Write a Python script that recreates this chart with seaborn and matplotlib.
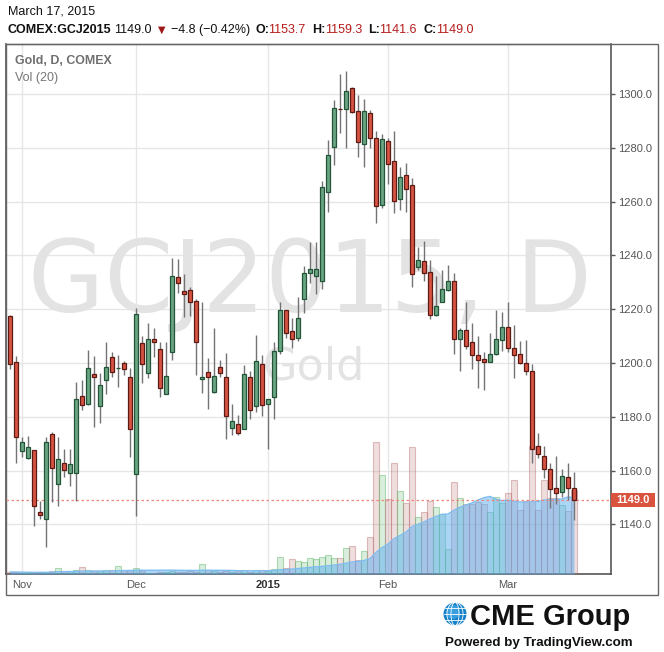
import numpy as np
import pandas as pd
import matplotlib
matplotlib.use("Agg")
import matplotlib.pyplot as plt
import matplotlib.transforms as mtransforms
from matplotlib.patches import Rectangle, Ellipse
from matplotlib.lines import Line2D
from matplotlib.ticker import FormatStrFormatter
import seaborn as sns

# ---------------- data ----------------
open_ = [1217.3, 1200.3, 1167.4, 1164.6, 1167.5, 1144.5, 1142.1, 1173.5, 1154.9, 1162.7,
         1159.0, 1159.0, 1187.6, 1184.6, 1195.8, 1183.9, 1193.6, 1202.1, 1198.0, 1199.9,
         1194.7, 1158.6, 1207.3, 1196.2, 1208.8, 1205.1, 1188.4, 1204.0, 1231.9, 1226.7,
         1227.0, 1222.9, 1193.9, 1196.5, 1189.1, 1198.4, 1194.7, 1175.7, 1177.2, 1175.4,
         1194.7, 1183.9, 1199.5, 1184.6, 1187.2, 1204.3, 1219.6, 1211.8, 1209.2, 1223.7,
         1233.3, 1232.2, 1230.4, 1263.5, 1280.2, 1294.5, 1294.3, 1302.1, 1293.6, 1281.3,
         1292.8, 1283.5, 1258.6, 1282.4, 1275.0, 1260.9, 1269.8, 1266.1, 1235.6, 1237.8,
         1233.7, 1217.7, 1222.6, 1227.0, 1230.4, 1208.8, 1212.2, 1207.7, 1202.9, 1201.4,
         1200.3, 1203.2, 1208.4, 1213.3, 1205.5, 1203.2, 1199.9, 1196.9, 1169.0, 1165.3,
         1160.5, 1153.4, 1151.9, 1157.5, 1153.7]
high = [1218.0, 1202.6, 1172.4, 1172.9, 1167.6, 1148.8, 1172.4, 1174.3, 1172.4, 1168.0,
        1168.0, 1192.9, 1193.7, 1204.8, 1202.6, 1196.2, 1207.8, 1204.1, 1203.0, 1200.6,
        1198.0, 1220.3, 1210.0, 1215.0, 1213.0, 1207.8, 1207.8, 1239.0, 1238.7, 1233.1,
        1228.1, 1223.9, 1222.6, 1201.7, 1212.9, 1201.1, 1203.6, 1184.8, 1180.6, 1199.3,
        1197.0, 1210.3, 1202.9, 1186.6, 1207.7, 1222.6, 1219.7, 1216.6, 1224.4, 1235.9,
        1244.9, 1244.9, 1267.5, 1282.8, 1297.7, 1307.4, 1308.6, 1302.5, 1299.7, 1298.0,
        1293.9, 1286.1, 1285.0, 1283.5, 1286.2, 1272.8, 1274.2, 1268.7, 1243.0, 1245.2,
        1238.2, 1232.2, 1234.5, 1236.3, 1233.3, 1213.0, 1222.6, 1214.8, 1210.0, 1204.0,
        1211.0, 1219.6, 1218.8, 1222.6, 1214.0, 1208.1, 1208.4, 1199.5, 1173.9, 1169.0,
        1162.7, 1165.4, 1160.5, 1162.7, 1159.3]
low = [1197.6, 1163.0, 1165.2, 1164.4, 1139.5, 1142.1, 1131.7, 1148.4, 1147.0, 1157.7,
       1154.4, 1148.8, 1182.6, 1184.5, 1176.1, 1177.6, 1188.4, 1194.7, 1191.2, 1195.4,
       1165.2, 1143.2, 1192.7, 1194.3, 1202.1, 1187.5, 1188.3, 1201.0, 1226.0, 1217.2,
       1217.6, 1195.5, 1188.7, 1182.8, 1189.0, 1194.7, 1171.9, 1173.1, 1173.4, 1175.3,
       1179.3, 1181.9, 1180.4, 1168.1, 1179.0, 1203.2, 1209.3, 1205.5, 1208.1, 1218.5,
       1229.6, 1225.5, 1227.4, 1256.0, 1273.5, 1285.4, 1279.8, 1293.0, 1276.5, 1272.8,
       1279.8, 1251.9, 1257.5, 1266.4, 1255.7, 1256.8, 1256.0, 1228.1, 1234.5, 1230.4,
       1216.2, 1217.6, 1222.5, 1226.9, 1203.2, 1196.9, 1205.1, 1197.7, 1190.6, 1189.9,
       1200.2, 1203.1, 1204.3, 1204.0, 1194.3, 1199.8, 1195.4, 1162.7, 1164.6, 1157.1,
       1146.2, 1147.5, 1150.3, 1149.1, 1141.6]
close = [1199.5, 1172.4, 1170.5, 1168.7, 1146.7, 1143.4, 1170.5, 1160.8, 1164.2, 1160.1,
         1162.3, 1186.5, 1184.3, 1198.0, 1194.7, 1191.7, 1198.4, 1196.5, 1198.0, 1197.6,
         1175.3, 1218.1, 1199.5, 1208.8, 1207.7, 1190.6, 1195.1, 1232.2, 1229.6, 1225.5,
         1222.6, 1207.7, 1194.8, 1194.7, 1195.1, 1196.2, 1180.2, 1178.3, 1173.9, 1195.8,
         1182.4, 1200.6, 1184.3, 1186.5, 1204.3, 1219.6, 1211.0, 1208.8, 1216.6, 1233.3,
         1234.8, 1234.8, 1265.3, 1277.2, 1294.7, 1294.3, 1301.0, 1293.2, 1282.0, 1293.6,
         1283.5, 1258.3, 1283.2, 1273.9, 1260.1, 1269.0, 1264.6, 1233.0, 1238.2, 1233.4,
         1217.7, 1221.1, 1227.4, 1230.4, 1208.8, 1212.2, 1206.2, 1202.9, 1201.0, 1200.3,
         1203.2, 1208.8, 1213.3, 1205.5, 1202.9, 1199.9, 1196.9, 1167.9, 1166.1, 1160.5,
         1153.0, 1151.6, 1157.9, 1153.4, 1149.0]
volume = [2, 2, 1.5, 1.5, 1, 2, 1.5, 3, 5.7, 3.5,
          3, 4, 6.7, 4, 3, 3, 4, 4.5, 7.7, 4.5,
          4, 5.7, 3, 1.5, 1, 2, 2.5, 3.5, 2.5, 2,
          3, 2.5, 9.7, 4.5, 3.5, 2, 3, 2, 3, 4.5,
          2.5, 4.5, 4, 3.5, 5, 16.7, 6, 14.7, 12.7, 12.3,
          15.7, 14.7, 17, 18.7, 16, 16, 26, 27.7, 14, 23,
          36.7, 131.7, 99, 75, 110.7, 83, 71, 126.7, 56.7, 62,
          73, 66.7, 60, 25, 91.7, 75.7, 70, 70, 71.7, 70,
          61.7, 76.7, 70.7, 81, 93.7, 64, 73.3, 128.3, 64, 93.7,
          75.7, 75.7, 68.7, 63, 84]
month_labels = ["Nov", "Dec", "2015", "Feb", "Mar"]
month_start = [2, 21, 43, 63, 83]
price_ticks = [1140, 1160, 1180, 1200, 1220, 1240, 1260, 1280, 1300]

# ---------------- styling ----------------
sns.set_theme(style="white")
plt.rcParams["font.family"] = ["Liberation Sans", "DejaVu Sans"]

W, H = 664, 652
fig = plt.figure(figsize=(W / 100, H / 100), dpi=100)
fig.patch.set_facecolor("white")


def fx(x):
    return x / W


def fy(y):
    return 1 - y / H


pos = [fx(6), fy(574), fx(611) - fx(6), fy(44) - fy(574)]
ax = fig.add_axes(pos)
ax_vol = fig.add_axes(pos, sharex=ax)
ax_c = fig.add_axes(pos, sharex=ax, sharey=ax)
ax.set_zorder(0)
ax_vol.set_zorder(1)
ax_c.set_zorder(2)
ax_vol.set_axis_off()
ax_c.set_axis_off()

idx = np.arange(len(close))
o = np.array(open_)
h = np.array(high)
l = np.array(low)
c = np.array(close)
v = np.array(volume, dtype=float)
up = c >= o

# ---------------- base axes: grid, ticks, watermark ----------------
ax.set_facecolor("white")
ax.set_yticks(price_ticks)
ax.set_xticks(month_start, month_labels)
ax.grid(True, color="#e6e6e6", lw=1)
ax.set_axisbelow(True)
ax.yaxis.tick_right()
ax.yaxis.set_major_formatter(FormatStrFormatter("%.1f"))
ax.tick_params(axis="y", colors="#555555", length=3, width=1, pad=2, labelsize=8)
ax.tick_params(axis="x", colors="#555555", length=3, width=1, pad=1.5, labelsize=8)
for lbl in ax.get_xticklabels():
    if lbl.get_text() == "2015":
        lbl.set_fontweight("bold")
        lbl.set_color("#333333")
for s in ["left", "bottom", "right"]:
    ax.spines[s].set_color("#555555")
    ax.spines[s].set_linewidth(1.2)
ax.spines["top"].set_color("#888888")
ax.spines["top"].set_linewidth(1)

ax.text(fx(309.5), fy(312), "GCJ2015, D", transform=fig.transFigure,
        ha="center", va="baseline", fontsize=71, color="#e3e3e3",
        family="DejaVu Sans", zorder=0.6)
ax.text(fx(314), fy(380), "Gold", transform=fig.transFigure,
        ha="center", va="baseline", fontsize=32, color="#e3e3e3",
        family="DejaVu Sans", zorder=0.6)

# ---------------- volume + MA(20) ----------------
ma = pd.Series(v).rolling(20, min_periods=1).mean().to_numpy()
vol_fc = [(0.35, 0.70, 0.40, 0.22) if u else (0.72, 0.42, 0.42, 0.22) for u in up]
vol_ec = [(0.35, 0.70, 0.40, 0.45) if u else (0.72, 0.42, 0.42, 0.42) for u in up]
ax_vol.bar(idx, v, width=0.85, color=vol_fc, edgecolor=vol_ec, linewidth=0.8, zorder=1)
ax_vol.fill_between(idx, 0, ma, color="#5aaef2", alpha=0.5, lw=0, zorder=2)
sns.lineplot(x=idx, y=ma, ax=ax_vol, color="#7dbcf0", lw=1, zorder=3, legend=False)
ax_vol.set_ylim(0, 530)

# ---------------- candles ----------------
last = close[-1]
ax_c.axhline(last, color="#f0877d", lw=0.9, ls=(0, (2, 2)), zorder=1)
ax_c.vlines(idx, l, h, color="#737375", lw=1, zorder=2)
bottoms = np.minimum(o, c)
heights = np.abs(c - o)
ax_c.bar(idx[up], heights[up], bottom=bottoms[up], width=0.72,
         color="#6ba583", edgecolor="#225437", linewidth=0.9, zorder=3)
ax_c.bar(idx[~up], heights[~up], bottom=bottoms[~up], width=0.72,
         color="#d75442", edgecolor="#5b1a13", linewidth=0.9, zorder=3)

ax.set_xlim(-0.667, 100.17)
ax.set_ylim(1121.56, 1318.59)

# last price tag
tr = mtransforms.blended_transform_factory(ax_c.transAxes, ax_c.transData)
ax_c.add_patch(Rectangle((1.0, last - 2.6), 44 / 605, 5.2, transform=tr,
                         facecolor="#d9533f", edgecolor="none", clip_on=False, zorder=5))
ax_c.text(1 + 22 / 605, last, f"{last:.1f}", transform=tr, ha="center", va="center",
          color="white", fontweight="bold", fontsize=8, clip_on=False, zorder=6)

# outer frame
fig.add_artist(Rectangle((fx(6), fy(595)), fx(658) - fx(6), fy(44) - fy(595),
                         transform=fig.transFigure, fill=False, edgecolor="#666666", lw=1))

# ---------------- header ----------------
fig.text(fx(8), fy(12), "March 17, 2015", va="center", fontsize=9, color="#111111")
pieces = [
    (8, "COMEX:GCJ2015", "bold", "#111111"),
    (114, "1149.0", "normal", "#111111"),
    (158, "▼", "normal", "#a01818"),
    (171, "\u22124.8 (\u22120.42%)", "normal", "#111111"),
    (255, "O:", "bold", "#111111"),
    (268, "1153.7", "normal", "#b71c1c"),
    (312, "H:", "bold", "#111111"),
    (325, "1159.3", "normal", "#b71c1c"),
    (368, "L:", "bold", "#111111"),
    (379, "1141.6", "normal", "#b71c1c"),
    (423, "C:", "bold", "#111111"),
    (436, "1149.0", "normal", "#b71c1c"),
]
for xp, txt, wt, col in pieces:
    fam = ["DejaVu Sans"] if txt == "▼" else ["Liberation Sans", "DejaVu Sans"]
    size = 7 if txt == "▼" else 9
    fig.text(fx(xp), fy(30), txt, va="center", ha="left", fontsize=size,
             fontweight=wt, color=col, family=fam)

fig.text(fx(15), fy(61), "Gold, D, COMEX", fontweight="bold", color="#6f6f6f",
         fontsize=8.9, va="center")
fig.text(fx(15), fy(78), "Vol (20)", color="#777777", fontsize=9, va="center")

# ---------------- logo ----------------
gx, gy, gr = 455, 614, 11.5
fig.add_artist(Ellipse((fx(gx), fy(gy)), 2 * gr / W, 2 * gr / H, transform=fig.transFigure,
                       facecolor="#1581c9", edgecolor="none"))
fig.add_artist(Ellipse((fx(gx - 2), fy(gy - 2)), 1.2 * gr / W, 1.2 * gr / H,
                       transform=fig.transFigure, facecolor="#4fb3ee", edgecolor="none",
                       alpha=0.6))
for k in [0.35, 0.7]:
    fig.add_artist(Ellipse((fx(gx), fy(gy)), 2 * gr * k / W, 2 * gr / H,
                           transform=fig.transFigure, fill=False, edgecolor="white", lw=0.6))
for dy in [-6, 0, 6]:
    half = np.sqrt(max(gr ** 2 - dy ** 2, 0))
    fig.add_artist(Line2D([fx(gx - half), fx(gx + half)], [fy(gy + dy), fy(gy + dy)],
                          transform=fig.transFigure, color="white", lw=0.6))
fig.text(fx(470), fy(624.7), "CME Group", fontsize=21, fontweight="bold",
         color="#111111", va="baseline", ha="left")
fig.text(fx(633), fy(646), "Powered by TradingView.com", fontsize=9.6, fontweight="bold",
         color="#111111", va="baseline", ha="right")

fig.savefig("out.png", dpi=100)
